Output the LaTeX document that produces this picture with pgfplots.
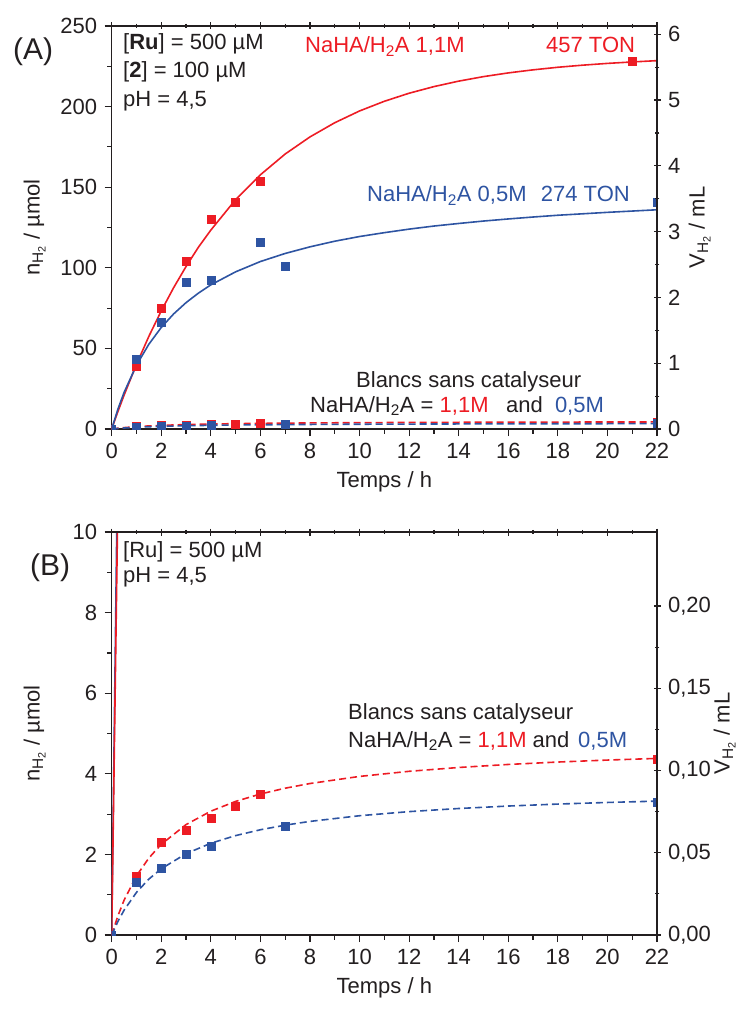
\documentclass[border=0pt]{standalone}
\usepackage{fontspec}
\setmainfont{Liberation Sans}
\usepackage{pgfplots}
\pgfplotsset{compat=1.18}
\definecolor{cred}{RGB}{237,28,36}
\definecolor{cblue}{RGB}{46,84,162}
\definecolor{ctxt}{RGB}{35,31,32}
\newcommand\fs{\fontsize{22}{26}\selectfont}

% main fits (umol) and data
\pgfplotstableread{
x y
0 0
0.25 10.8
0.5 21.0
1 40.1
1.5 57.5
2 73.3
2.5 87.7
3 100.8
3.5 112.8
4 123.4
5 142.3
6 157.7
7 170.6
8 181.2
9 190.0
10 197.3
11 203.3
12 208.3
13 212.4
14 215.8
15 218.6
16 220.9
17 222.8
18 224.4
19 225.7
20 226.8
21 227.7
22 228.5
}\redfit
\pgfplotstableread{
x y
0 0
0.25 12.3
0.5 22.7
1 39.6
1.5 52.6
2 63.0
2.5 71.4
3 78.4
3.5 84.3
4 89.4
5 97.5
6 103.9
7 108.9
8 113.0
9 116.5
10 119.4
11 121.8
12 124.0
13 125.9
14 127.5
15 129.0
16 130.3
17 131.5
18 132.6
19 133.5
20 134.4
21 135.2
22 136.0
}\bluefit
\pgfplotstableread{
x y
0 0
1 39
2 75
3 104
4 130
5 141
6 154
21 228
}\reddata
\pgfplotstableread{
x y
0 0
1 43
2 66
3 91
4 92
6 116
7 101
22 141
}\bluedata
% blanks
\pgfplotstableread{
x y
0 0
0.25 0.475
0.5 0.864
1 1.467
1.5 1.911
2 2.251
3 2.740
4 3.073
5 3.315
6 3.499
7 3.643
8 3.759
10 3.935
12 4.062
14 4.157
16 4.232
18 4.292
20 4.341
22 4.382
}\redblankfit
\pgfplotstableread{
x y
0 0
0.25 0.336
0.5 0.617
1 1.057
1.5 1.388
2 1.644
3 2.018
4 2.277
5 2.467
6 2.612
7 2.726
8 2.819
10 2.960
12 3.062
14 3.139
16 3.200
18 3.249
20 3.289
22 3.322
}\blueblankfit
\pgfplotstableread{
x y
0 0
1 1.45
2 2.30
3 2.60
4 2.90
5 3.20
6 3.50
22 4.37
}\redblank
\pgfplotstableread{
x y
0 0
1 1.30
2 1.65
3 2.00
4 2.20
7 2.70
22 3.30
}\blueblank

\pgfplotsset{
  base/.style={
    width=545.3pt, height=403pt, scale only axis,
    xmin=0, xmax=22, xtick={0,2,...,22}, minor x tick num=1,
    axis line style={line width=1.5pt, ctxt},
    every tick/.style={line width=1.2pt, ctxt},
    major tick length=7pt, minor tick length=4.5pt,
    tick label style={font=\fs, text=ctxt},
    label style={font=\fs, text=ctxt},
    /pgf/number format/assume math mode=true,
    clip marker paths=true,
  },
  leftax/.style={base, tick align=outside, xtick pos=left, ytick pos=left,
    minor y tick num=1,
    yticklabel style={xshift=-4pt},
    xticklabel style={yshift=-4pt},
    xlabel={Temps / h},
    xlabel style={at={(axis description cs:0.5,0)}, anchor=base, yshift=-58pt},
    ylabel={n\textsubscript{H\textsubscript{2}} / µmol},
    ylabel style={at={(axis description cs:-0.1412,0.5)}, anchor=center, rotate=0},
  },
  rightax/.style={base, tick align=center, axis x line*=top, axis y line*=right,
    xticklabels={}, minor y tick num=1,
    yticklabel style={xshift=4pt},
    ylabel={V\textsubscript{H\textsubscript{2}} / mL},
    ylabel style={at={(axis description cs:1.0783,0.5)}, anchor=center, rotate=0},
  },
  solidr/.style={cred, line width=1.6pt, no markers},
  solidb/.style={cblue, line width=1.6pt, no markers},
  dashr/.style={cred, line width=1.6pt, dash pattern=on 7pt off 4pt, no markers},
  dashb/.style={cblue, line width=1.6pt, dash pattern=on 7pt off 4pt, no markers},
  mkr/.style={only marks, mark=square*, mark size=4pt, cred},
  mkb/.style={only marks, mark=square*, mark size=4pt, cblue},
}

\begin{document}
\begin{tikzpicture}[x=1pt,y=1pt]
\path[use as bounding box] (-111.7,-581) rectangle (634.3,429);

% ---------------- Panel A ----------------
\begin{axis}[leftax, at={(0pt,0pt)}, anchor=south west,
  ymin=0, ymax=250, ytick={0,50,...,250}]
\addplot[dashr] table {\redblankfit};
\addplot[dashb] table {\blueblankfit};
\addplot[mkr] table {\redblank};
\addplot[mkb] table {\blueblank};
\addplot[solidr] table {\redfit};
\addplot[solidb] table {\bluefit};
\addplot[mkr] table {\reddata};
\addplot[mkb] table {\bluedata};
\end{axis}
\begin{axis}[rightax, at={(0pt,0pt)}, anchor=south west,
  ymin=0, ymax=6.125, ytick={0,1,...,6}]
\end{axis}

% ---------------- Panel B ----------------
\begin{axis}[leftax, at={(0pt,-506pt)}, anchor=south west,
  ymin=0, ymax=10, ytick={0,2,...,10}]
\addplot[solidb] table {\bluefit};
\addplot[solidr] table {\redfit};
\addplot[dashr] table {\redblankfit};
\addplot[dashb] table {\blueblankfit};
\addplot[mkr] table {\redblank};
\addplot[mkb] table {\blueblank};
\end{axis}
\begin{axis}[rightax, at={(0pt,-506pt)}, anchor=south west,
  ymin=0, ymax=0.245, ytick={0,0.05,...,0.21},
  yticklabel style={/pgf/number format/.cd, fixed, fixed zerofill, precision=2, use comma},
  ylabel style={at={(axis description cs:1.1242,0.5)}}]
\end{axis}

% ---------------- texts ----------------
\begin{scope}[every node/.style={font=\fs, text=ctxt, inner sep=0pt}]
\node[anchor=base west, font=\fontsize{30}{34}\selectfont] at (-98.7,369) {(A)};
\node[anchor=base west] at (11.3,379) {[\textbf{Ru}] = 500 µM};
\node[anchor=base west] at (11.3,351) {[\textbf{2}] = 100 µM};
\node[anchor=base west] at (11.3,322) {pH = 4,5};
\node[anchor=base west, text=cred] at (193.3,376) {NaHA/H\textsubscript{2}A 1,1M};
\node[anchor=base east, text=cred] at (523.5,376) {457 TON};
\node[anchor=base west, text=cblue] at (255.3,227) {NaHA/H\textsubscript{2}A 0,5M};
\node[anchor=base east, text=cblue] at (518.3,227) {274 TON};
\node[anchor=base west] at (244.3,42) {Blancs sans catalyseur};
\node[anchor=base west] at (198.3,17) {NaHA/H\textsubscript{2}A = \textcolor{cred}{1,1M}\hspace{0.8em}and\hspace{0.55em}\textcolor{cblue}{0,5M}};

\node[anchor=base west, font=\fontsize{30}{34}\selectfont] at (-81.7,-146) {(B)};
\node[anchor=base west] at (11.3,-128) {[Ru] = 500 µM};
\node[anchor=base west] at (11.3,-153) {pH = 4,5};
\node[anchor=base west] at (236.3,-290) {Blancs sans catalyseur};
\node[anchor=base west] at (236.3,-318) {NaHA/H\textsubscript{2}A = \textcolor{cred}{1,1M} and\hspace{0.4em}\textcolor{cblue}{0,5M}};
\end{scope}
\end{tikzpicture}
\end{document}
